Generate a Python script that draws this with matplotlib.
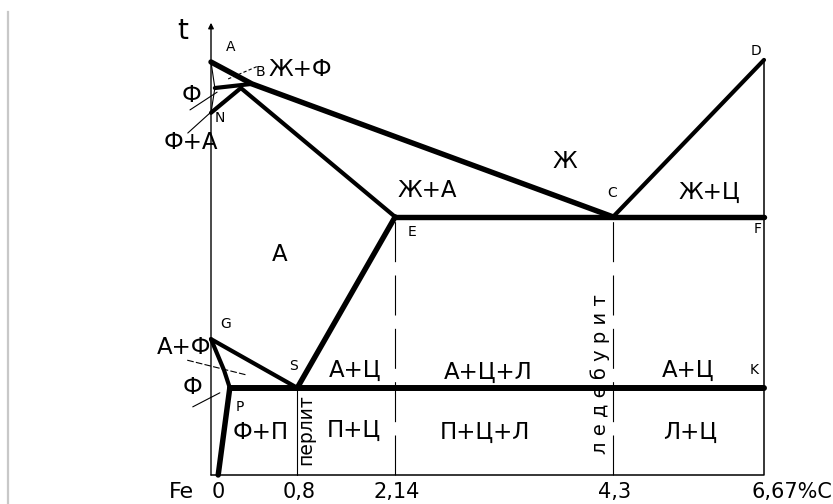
import matplotlib
matplotlib.use('Agg')
import matplotlib.pyplot as plt
from matplotlib.lines import Line2D

plt.rcParams['font.family'] = ['DejaVu Sans']

# Schematic coordinates of the Fe-C diagram points
# (x: 0 = Fe ... 100 = 6,67 %C; y: 0 = bottom ... 100 = point A)
A = (0, 100)
B = (7.4, 94.7)
H = (0.7, 93.7)
J = (5.4, 93.7)
N = (0, 87.7)
E = (33.3, 62.5)
C = (72.7, 62.5)
F = (100, 62.5)
D = (100, 100.5)
G = (0, 32.9)
GP_MID = (2.35, 25.4)
S = (15.6, 21.1)
P = (3.4, 21.1)
K = (100, 21.1)
Q = (1.3, 0)
T_TOP = 109.5

# carbon ticks
tick_pos = [0, 15.6, 33.3, 72.7, 100]
tick_labels = ['0', '0,8', '2,14', '4,3', '6,67%C']

# phase fields: text, x, y
phase_labels = [
    ('Ж+Ф', 16.1, 98.1), ('Ф', -3.6, 92.0), ('Ф+А', -3.6, 80.4),
    ('Ж', 64.0, 75.8), ('Ж+А', 39.1, 68.8), ('Ж+Ц', 90.1, 68.5),
    ('А', 12.5, 53.3), ('А+Ф', -4.9, 30.8),
    ('А+Ц', 26.0, 25.4), ('А+Ц+Л', 50.1, 24.9), ('А+Ц', 86.3, 25.4),
    ('Ф', -3.4, 21.1),
    ('Ф+П', 9.0, 10.2), ('П+Ц', 25.9, 10.9), ('П+Ц+Л', 49.5, 10.4),
    ('Л+Ц', 86.6, 10.4),
]

# point letters: text, x, y
point_labels = [
    ('A', 3.6, 103.6), ('B', 9.0, 97.6), ('N', 1.6, 86.4),
    ('C', 72.5, 68.3), ('E', 36.3, 58.8), ('F', 98.9, 59.6),
    ('D', 98.6, 102.7), ('G', 2.7, 36.6), ('S', 15.0, 26.4),
    ('K', 98.2, 25.4), ('P', 5.2, 16.5),
]


def seg(ax, pts, lw, ls='-', dashes=None):
    xs = [p[0] for p in pts]
    ys = [p[1] for p in pts]
    line, = ax.plot(xs, ys, color='black', lw=lw, ls=ls,
                    solid_capstyle='round', clip_on=False)
    if dashes is not None:
        line.set_dashes(dashes)
    return line


fig = plt.figure(figsize=(8.33, 5.04), dpi=100)
fig.patch.set_facecolor('white')
ax = fig.add_axes([211 / 833, 29 / 504, 553 / 833, 413 / 504])
ax.set_xlim(0, 100)
ax.set_ylim(0, 100)
ax.axis('off')

# gray border at the far left
fig.add_artist(Line2D([7.5 / 833, 7.5 / 833], [0, 492 / 504],
                      color='#c8c8c8', lw=1.6))

# frame: temperature axis, bottom, right side
ax.annotate('', xy=(0, T_TOP), xytext=(0, 0),
            arrowprops=dict(arrowstyle='-|>', lw=1.0, color='black',
                            mutation_scale=8, shrinkA=0, shrinkB=0),
            annotation_clip=False)
seg(ax, [(0, 0), (100, 0), D], 1.1)

THICK = 3.9
MED = 3.0
THIN = 0.8

# liquidus, solidus and other boundaries
seg(ax, [A, B, C], THICK)
seg(ax, [C, D], MED)
seg(ax, [H, B], MED)
seg(ax, [N, J], MED)
seg(ax, [J, E], MED)
seg(ax, [A, H, N], THIN)
seg(ax, [E, F], THICK)
seg(ax, [S, E], THICK)
seg(ax, [G, S], MED)
seg(ax, [G, GP_MID, P], MED)
seg(ax, [P, Q], THICK)
seg(ax, [P, K], 4.3)

# vertical composition lines
seg(ax, [(S[0], 0), S], THIN)
seg(ax, [(E[0], 0), E], THIN, dashes=(36, 12))
seg(ax, [(C[0], 0), C], THIN, dashes=(36, 12))

# leader lines
seg(ax, [(3.1, 95.9), (8.5, 99.0)], THIN, dashes=(3, 2))
seg(ax, [(-3.8, 88.4), (1.1, 92.7)], THIN)
seg(ax, [(-4.2, 82.8), (2.0, 90.3)], THIN)
seg(ax, [(-4.3, 27.8), (6.5, 24.2)], THIN, dashes=(6, 2))
seg(ax, [(-3.3, 16.5), (1.6, 19.9)], THIN)

for txt, x, y in phase_labels:
    ax.text(x, y, txt, fontsize=16.5, ha='center', va='center', clip_on=False)

for txt, x, y in point_labels:
    ax.text(x, y, txt, fontsize=10, ha='center', va='center', clip_on=False)

ax.text(-5.2, 107.5, 't', fontsize=20, ha='center', va='center')
ax.text(17.2, 10.9, 'перлит', fontsize=13.5, rotation=90,
        ha='center', va='center')
ax.text(70.3, 24.5, 'л е д е б у р и т', fontsize=14, rotation=90,
        ha='center', va='center')

# composition ticks
ax.text(-5.4, -4.1, 'Fe', fontsize=16, ha='center', va='center')
for pos, lab in zip(tick_pos, tick_labels):
    if pos == 0:
        ax.text(pos + 0.2, -4.1, lab, fontsize=15, ha='left', va='center')
    elif pos == 100:
        ax.text(pos - 2.2, -4.1, lab, fontsize=15, ha='left', va='center')
    else:
        ax.text(pos + 0.3, -4.1, lab, fontsize=15, ha='center', va='center')

fig.savefig('out.png', dpi=100)
